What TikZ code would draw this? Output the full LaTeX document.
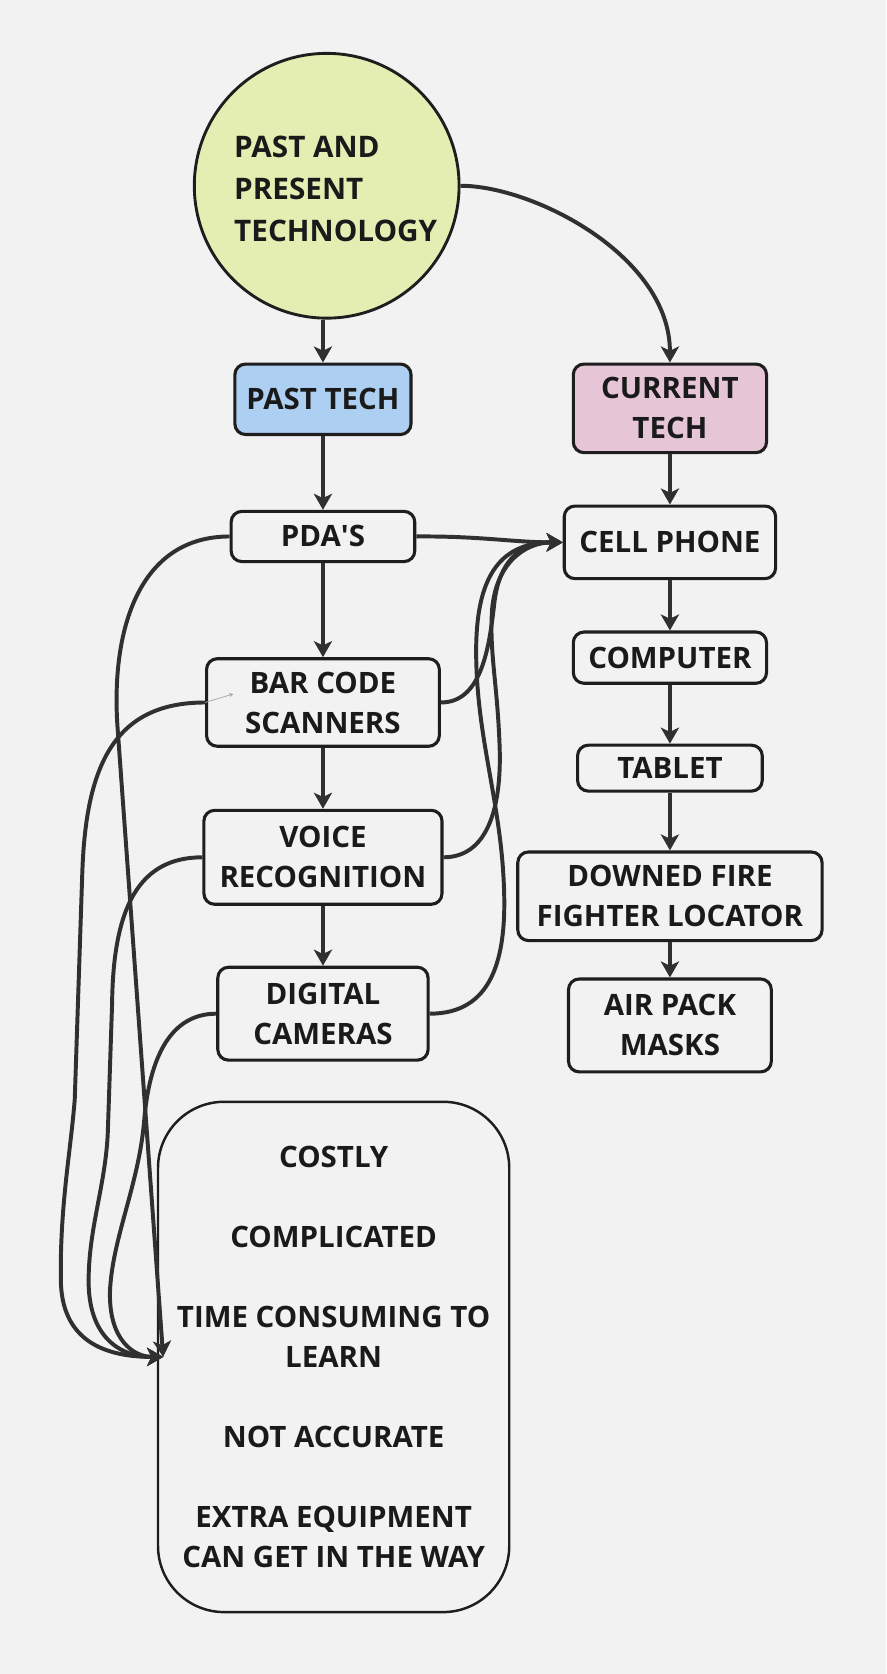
\documentclass[tikz,border=0pt]{standalone}
\usepackage{fontspec}
\setmainfont{Open Sans}
\usetikzlibrary{arrows.meta}
\definecolor{bg}{HTML}{F2F2F2}
\definecolor{bord}{HTML}{1E1E1E}
\definecolor{conn}{HTML}{303030}
\definecolor{txt}{HTML}{1A1A1A}
\definecolor{rootfill}{HTML}{E5EEB2}
\definecolor{bluefill}{HTML}{ADCFF1}
\definecolor{pinkfill}{HTML}{E6C5D7}
\newcommand\tkfont{\bfseries\fontsize{13.8}{18.75}\selectfont}
\newcommand\tkrootfont{\bfseries\fontsize{13.9}{19.75}\selectfont}
\begin{document}
\begin{tikzpicture}[x=0.5pt,y=-0.5pt,
  box/.style={draw=bord, line width=1.45pt, rounded corners=5pt, inner sep=0pt,
    align=center, font=\tkfont, text=txt},
  arr/.style={draw=conn, line width=1.85pt,
    -{Stealth[length=7.5pt,width=8.5pt,inset=2pt]}}]
\useasboundingbox (0,0) rectangle (830,1568);
\fill[bg] (0,0) rectangle (830,1568);

% root circle
\node[circle, draw=bord, line width=1.35pt, fill=rootfill, minimum size=124pt, inner sep=0pt] (root) at (306,174) {};
\node[anchor=west, inner sep=0pt, align=left, font=\tkrootfont, text=txt] (roottext) at (219,177) {PAST AND\\PRESENT\\TECHNOLOGY};

% left column
\node[box, fill=bluefill, minimum width=82.5pt, minimum height=33pt] (pasttech) at (302.5,374) {PAST TECH};
\node[box, minimum width=86pt, minimum height=23.5pt] (pda) at (302.5,502.5) {PDA\textquotesingle S};
\node[box, minimum width=109pt, minimum height=41pt] (bar) at (302.5,658) {BAR CODE\\SCANNERS};
\node[box, minimum width=111.5pt, minimum height=44pt] (voice) at (302.5,803) {VOICE\\RECOGNITION};
\node[box, minimum width=98.5pt, minimum height=43.5pt] (digital) at (302.5,949.5) {DIGITAL\\CAMERAS};

% right column
\node[box, fill=pinkfill, minimum width=90.5pt, minimum height=41.5pt] (curtech) at (627.5,382.5) {CURRENT\\TECH};
\node[box, minimum width=99pt, minimum height=34pt] (cell) at (627.5,508) {CELL PHONE};
\node[box, minimum width=90.5pt, minimum height=24pt] (comp) at (627.5,616) {COMPUTER};
\node[box, minimum width=86.5pt, minimum height=21.5pt] (tablet) at (627.5,719.5) {TABLET};
\node[box, minimum width=142.5pt, minimum height=41.5pt] (downed) at (627.5,839.5) {DOWNED FIRE\\FIGHTER LOCATOR};
\node[box, minimum width=95pt, minimum height=43.5pt] (air) at (627.5,960.5) {AIR PACK\\MASKS};

% cons box
\node[box, line width=1.15pt, rounded corners=31pt, minimum width=164.5pt, minimum height=239pt] (cons) at (312.5,1271)
  {COSTLY\\[18.75pt]COMPLICATED\\[18.75pt]TIME CONSUMING TO\\LEARN\\[18.75pt]NOT ACCURATE\\[18.75pt]EXTRA EQUIPMENT\\CAN GET IN THE WAY};

% vertical connectors
\draw[arr] (pasttech.north |- root.south) -- (pasttech.north);
\draw[arr] (pasttech.south) -- (pda.north);
\draw[arr] (pda.south) -- (bar.north);
\draw[arr] (bar.south) -- (voice.north);
\draw[arr] (voice.south) -- (digital.north);
\draw[arr] (curtech.south) -- (cell.north);
\draw[arr] (cell.south) -- (comp.north);
\draw[arr] (comp.south) -- (tablet.north);
\draw[arr] (tablet.south) -- (downed.north);
\draw[arr] (downed.south) -- (air.north);

% root to current tech
\draw[arr] (root.east) .. controls (500,174) and (627.5,240) .. (curtech.north);

% to cell phone
\draw[arr] (pda.east) .. controls (450,502) and (480,508) .. (cell.west);
\draw[arr] (bar.east) .. controls (450,658) and (458,610) .. (463,565) .. controls (468,522) and (490,508) .. (cell.west);
\draw[arr] (voice.east) .. controls (455,803) and (470,760) .. (468,700) .. controls (466,640) and (458,610) .. (461,570) .. controls (465,527) and (492,508) .. (cell.west);
\draw[arr] (digital.east) .. controls (460,949.5) and (475,900) .. (472,830) .. controls (469,750) and (446,690) .. (446,610) .. controls (446,545) and (465,508) .. (cell.west);

% to cons box
\coordinate (T) at ([xshift=3pt]cons.west);
\draw[arr] (pda.west) .. controls (130,502.5) and (104,590) .. (110,680) -- (T);
\draw[arr] (bar.west) .. controls (105,658) and (80,720) .. (77,820) -- (70,1030) .. controls (66,1080) and (56,1130) .. (57,1200) .. controls (58,1250) and (90,1271) .. (T);
\draw[arr] (voice.west) .. controls (130,803) and (106,850) .. (105,940) -- (101,1060) .. controls (99,1110) and (83,1150) .. (83,1200) .. controls (83,1250) and (110,1271) .. (T);
\draw[arr] (digital.west) .. controls (160,949.5) and (140,990) .. (135,1050) .. controls (130,1110) and (105,1160) .. (103,1210) .. controls (102,1255) and (125,1271) .. (T);

% tiny artifact arrow
\coordinate (artif) at (218.6,650);
\draw[gray!70, line width=0.35pt, -{Stealth[length=2pt,width=2pt]}] (bar.west) -- (artif);
\end{tikzpicture}
\end{document}
